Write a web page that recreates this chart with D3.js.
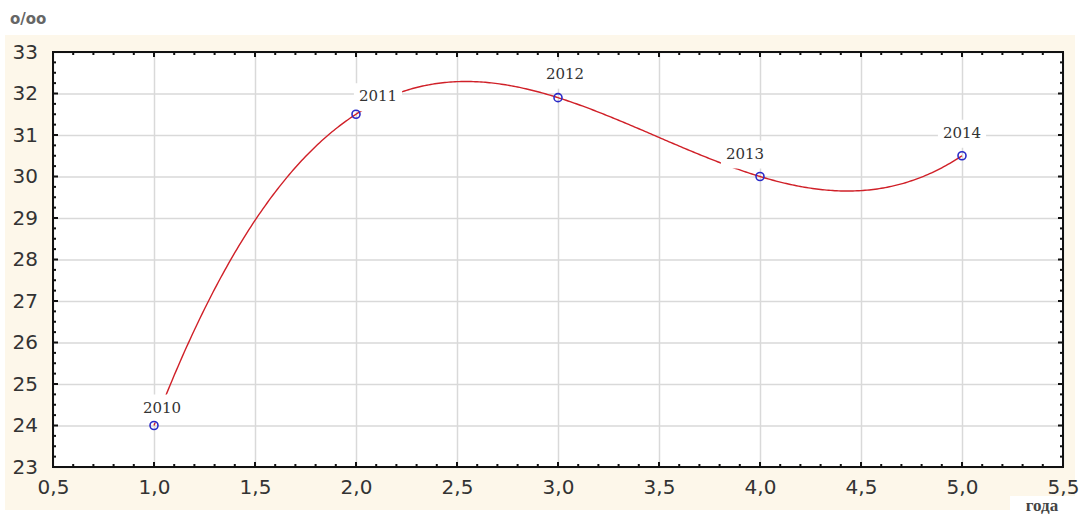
<!DOCTYPE html>
<html>
<head>
<meta charset="utf-8">
<script src="https://cdn.jsdelivr.net/npm/d3@7"></script>
<style>
  body { margin: 0; background: #ffffff; }
  .tick text { font-family: "DejaVu Sans", sans-serif; font-size: 20px; fill: #333; }
</style>
</head>
<body>
<div id="chart"></div>
<script>
// data
var years = ["2010", "2011", "2012", "2013", "2014"];
var xValues = [1, 2, 3, 4, 5];
var yValues = [24.0, 31.5, 31.9, 30.0, 30.5];

// ticks
var xTicks = [0.5, 1.0, 1.5, 2.0, 2.5, 3.0, 3.5, 4.0, 4.5, 5.0, 5.5];
var yTicks = [23, 24, 25, 26, 27, 28, 29, 30, 31, 32, 33];

// label placement relative to each point (layout, not data)
var labelDx = [8, 22, 7, -15, 0];
var labelDy = [-13, -13, -19, -18, -18];

var svgWidth = 1080;
var svgHeight = 515;

var margin = {
    top: 52,
    bottom: 48,
    left: 53,
    right: 17
};

var chartWidth = svgWidth - margin.left - margin.right;
var chartHeight = svgHeight - margin.top - margin.bottom;

var svg = d3.select("#chart")
            .append("svg")
            .attr("width", svgWidth)
            .attr("height", svgHeight);

// cream panel behind everything
svg.append("rect")
    .attr("x", 5)
    .attr("y", 35)
    .attr("width", 1070)
    .attr("height", 475)
    .attr("fill", "#fdf7ea");

var chartGroup = svg.append("g")
    .attr("transform", `translate(${margin.left}, ${margin.top})`);

var xScale = d3.scaleLinear()
                .domain([0.5, 5.5])
                .range([0, chartWidth]);

var yScale = d3.scaleLinear()
                .domain([23, 33])
                .range([chartHeight, 0]);

chartGroup.append("rect")
    .attr("width", chartWidth)
    .attr("height", chartHeight)
    .attr("fill", "#ffffff");

// grid lines
var xGrid = chartGroup.append("g")
    .attr("transform", `translate(0, ${chartHeight})`)
    .call(d3.axisBottom(xScale).tickValues(xTicks).tickSize(-chartHeight).tickFormat(""));
var yGrid = chartGroup.append("g")
    .call(d3.axisLeft(yScale).tickValues(yTicks).tickSize(-chartWidth).tickFormat(""));
[xGrid, yGrid].forEach(function(g) {
    g.select(".domain").remove();
    g.selectAll("line").attr("stroke", "#d9d9d9").attr("stroke-width", 1.5);
});

// polynomial fit through the points (Lagrange form, as the stats package draws it)
function fit(x) {
    var s = 0;
    for (var i = 0; i < xValues.length; i++) {
        var term = yValues[i];
        for (var j = 0; j < xValues.length; j++) {
            if (j !== i) term *= (x - xValues[j]) / (xValues[i] - xValues[j]);
        }
        s += term;
    }
    return s;
}
var fitX = d3.range(xValues[0], xValues[xValues.length - 1] + 0.001, 0.01);

var line = d3.line()
    .x(d => xScale(d))
    .y(d => yScale(fit(d)));

chartGroup.append("path")
    .datum(fitX)
    .attr("d", line)
    .attr("fill", "none")
    .attr("stroke", "#d02028")
    .attr("stroke-width", 1.4);

// point labels with white boxes
var labels = chartGroup.selectAll(".plabel")
    .data(years)
    .enter()
    .append("g")
    .attr("class", "plabel");

labels.append("text")
    .text(d => d)
    .attr("x", (d, i) => xScale(xValues[i]) + labelDx[i])
    .attr("y", (d, i) => yScale(yValues[i]) + labelDy[i])
    .attr("text-anchor", "middle")
    .style("font-family", "'DejaVu Serif', serif")
    .style("font-size", "15px")
    .style("fill", "#333");

labels.each(function() {
    var g = d3.select(this);
    var b = g.select("text").node().getBBox();
    g.insert("rect", "text")
        .attr("x", b.x - 5)
        .attr("y", b.y - 4)
        .attr("width", b.width + 10)
        .attr("height", b.height + 10)
        .attr("fill", "#ffffff");
});

// points
chartGroup.selectAll("circle")
    .data(xValues)
    .enter()
    .append("circle")
    .attr("cx", d => xScale(d))
    .attr("cy", (d, i) => yScale(yValues[i]))
    .attr("r", 4)
    .attr("fill", "none")
    .attr("stroke", "#2a2ac8")
    .attr("stroke-width", 1.6);

// frame
chartGroup.append("rect")
    .attr("width", chartWidth)
    .attr("height", chartHeight)
    .attr("fill", "none")
    .attr("stroke", "#111")
    .attr("stroke-width", 2);

// inward ticks on all four sides, minor every 0.1 / 0.25
var xMinor = d3.range(0.5, 5.501, 0.1);
var yMinor = d3.range(23, 33.001, 0.25);
function tickLen(v, step) {
    return Math.abs(v / step - Math.round(v / step)) < 1e-6 ? 5 : 3;
}
// bottom and top
[[chartHeight, -1], [0, 1]].forEach(function(s) {
    chartGroup.append("g").selectAll("line")
        .data(xMinor)
        .enter()
        .append("line")
        .attr("x1", d => xScale(d))
        .attr("x2", d => xScale(d))
        .attr("y1", s[0])
        .attr("y2", d => s[0] + s[1] * tickLen(d, 0.5))
        .attr("stroke", "#111")
        .attr("stroke-width", 2);
});
// left and right
[[0, 1], [chartWidth, -1]].forEach(function(s) {
    chartGroup.append("g").selectAll("line")
        .data(yMinor)
        .enter()
        .append("line")
        .attr("y1", d => yScale(d))
        .attr("y2", d => yScale(d))
        .attr("x1", s[0])
        .attr("x2", d => s[0] + s[1] * tickLen(d, 1))
        .attr("stroke", "#111")
        .attr("stroke-width", 2);
});

// tick labels
var commaFmt = d => d3.format(".1f")(d).replace(".", ",");
var xAxis = chartGroup.append("g")
    .attr("transform", `translate(0, ${chartHeight})`)
    .call(d3.axisBottom(xScale).tickValues(xTicks).tickFormat(commaFmt).tickSize(0).tickPadding(13));
var yAxis = chartGroup.append("g")
    .call(d3.axisLeft(yScale).tickValues(yTicks).tickFormat(d3.format("d")).tickSize(0).tickPadding(15));
[xAxis, yAxis].forEach(g => g.select(".domain").remove());

// axis titles
svg.append("text")
    .attr("x", 10)
    .attr("y", 24)
    .style("font-family", "'DejaVu Sans', sans-serif")
    .style("font-size", "15px")
    .style("font-weight", "bold")
    .style("fill", "#666")
    .text("o/oo");

svg.append("rect")
    .attr("x", 1010)
    .attr("y", 496)
    .attr("width", 70)
    .attr("height", 19)
    .attr("fill", "#ffffff");
svg.append("text")
    .attr("x", 1042)
    .attr("y", 511)
    .attr("text-anchor", "middle")
    .style("font-family", "'Liberation Serif', serif")
    .style("font-size", "17px")
    .style("font-weight", "bold")
    .style("fill", "#444")
    .text("года");
</script>
</body>
</html>
